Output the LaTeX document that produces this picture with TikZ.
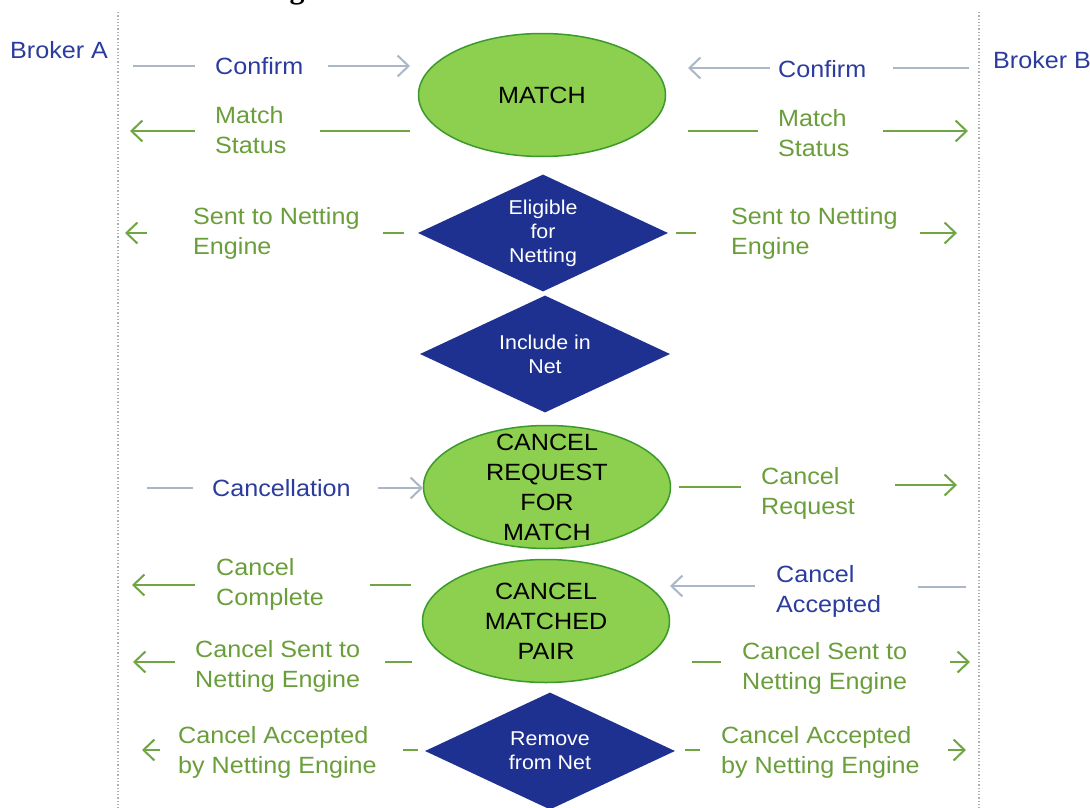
\documentclass[tikz,border=0pt]{standalone}
\usepackage{fontspec}
\setmainfont{Liberation Sans}[FakeStretch=1.07]
\newfontfamily\titlefont{Liberation Serif}
\usetikzlibrary{arrows.meta,shapes.geometric}
\definecolor{tblue}{HTML}{2B3C9E}
\definecolor{tgreen}{HTML}{6A9E3A}
\definecolor{lgrey}{HTML}{A9B7C6}
\definecolor{lgreen}{HTML}{6FA543}
\definecolor{efill}{HTML}{8DCF4E}
\definecolor{edraw}{HTML}{3B9A2B}
\definecolor{dfill}{HTML}{1E3190}
\definecolor{dotgrey}{HTML}{B0B0B0}
\begin{document}
\begin{tikzpicture}[x=1pt,y=-1pt,
  lbl/.style={font=\fontsize{23.5}{30}\selectfont, inner sep=0pt, align=left, anchor=west},
  bl/.style={lbl,text=tblue},
  gl/.style={lbl,text=tgreen},
  gline/.style={lgrey,line width=2pt},
  grline/.style={lgreen,line width=2pt},
  tip/.style={-{Straight Barb[length=11pt,width=21pt]}},
  state/.style={ellipse,draw=edraw,line width=1.5pt,fill=efill,minimum width=247,minimum height=123,inner sep=0pt},
  stext/.style={font=\fontsize{23.5}{30}\selectfont,align=center,text=black,inner sep=0pt},
  decision/.style={diamond,fill=dfill,minimum width=250,minimum height=117,inner sep=0pt},
  dtext/.style={font=\fontsize{20}{24}\selectfont,align=center,text=white,inner sep=0pt},
  lane/.style={dotgrey,line width=1.3pt,dotted}]
\fill[white] (0,0) rectangle (1090,808);
\useasboundingbox (0,0) rectangle (1090,808);

% title fragment (cut off at the top edge, as in the reference)
\node[font=\titlefont\bfseries\fontsize{30}{30}\selectfont,anchor=base,inner sep=0pt] (title) at (297,-1) {g};

% swimlane borders
\coordinate (laT) at (118,12); \coordinate (laB) at (118,808);
\coordinate (lbT) at (979,12); \coordinate (lbB) at (979,808);
\draw[lane] (laT) -- (laB);
\draw[lane] (lbT) -- (lbB);
\node[bl] (brokerA) at (10,50) {Broker A};
\node[bl] (brokerB) at (993,60) {Broker B};

% states
\node[state] (match) at (542,95) {};
\node[stext] (matchT) at (match) {MATCH};
\node[decision] (elig) at (543,233) {};
\node[dtext] (eligT) at (elig) {Eligible\\for\\Netting};
\node[decision] (incl) at (545,354) {};
\node[dtext] (inclT) at (incl) {Include in\\Net};
\node[state] (creq) at (547,487) {};
\node[stext] (creqT) at (creq) {CANCEL\\REQUEST\\FOR\\MATCH};
\node[state] (cmp) at (546,621) {};
\node[stext] (cmpT) at (cmp) {CANCEL\\MATCHED\\PAIR};
\node[decision] (rem) at (550,751) {};
\node[dtext] (remT) at (rem) {Remove\\from Net};

% Confirm (A -> match)
\draw[gline] (133,66) -- (195,66);
\node[bl] (confA) at (215,66) {Confirm};
\draw[gline,tip] (328,66) -- (410,66);
% Confirm (B -> match)
\draw[gline,tip] (770,68) -- (688,68);
\node[bl] (confB) at (778,69) {Confirm};
\draw[gline] (893,68) -- (969,68);

% Match Status
\draw[grline,tip] (195,131) -- (130,131);
\node[gl] (msA) at (215,130) {Match\\Status};
\draw[grline] (320,131) -- (410,131);
\draw[grline] (688,131) -- (758,131);
\node[gl] (msB) at (778,133) {Match\\Status};
\draw[grline,tip] (883,131) -- (968,131);

% Sent to Netting Engine
\draw[grline,tip] (147,233) -- (125,233);
\node[gl] (sneA) at (193,233) {Sent to Netting\\Engine};
\draw[grline] (383,233) -- (404,233);
\draw[grline] (676,233) -- (696,233);
\node[gl] (sneB) at (731,233) {Sent to Netting\\Engine};
\draw[grline,tip] (920,233) -- (957,233);

% Cancellation / Cancel Request
\draw[gline] (147,488) -- (193,488);
\node[bl] (canc) at (212,488) {Cancellation};
\draw[gline,tip] (378,488) -- (423,488);
\draw[grline] (679,487) -- (741,487);
\node[gl] (creqL) at (761,493) {Cancel\\Request};
\draw[grline,tip] (895,485) -- (957,485);

% Cancel Complete / Cancel Accepted
\draw[grline,tip] (195,585) -- (132,585);
\node[gl] (ccomp) at (216,584) {Cancel\\Complete};
\draw[grline] (370,585) -- (411,585);
\draw[gline,tip] (755,586) -- (670,586);
\node[bl] (cacc) at (776,591) {Cancel\\Accepted};
\draw[gline] (918,587) -- (966,587);

% Cancel Sent to Netting Engine
\draw[grline,tip] (175,662) -- (133,662);
\node[gl] (csA) at (195,666) {Cancel Sent to\\Netting Engine};
\draw[grline] (385,662) -- (412,662);
\draw[grline] (692,662) -- (721,662);
\node[gl] (csB) at (742,668) {Cancel Sent to\\Netting Engine};
\draw[grline,tip] (950,662) -- (970,662);

% Cancel Accepted by Netting Engine
\draw[grline,tip] (160,750) -- (142,750);
\node[gl] (caA) at (178,752) {Cancel Accepted\\by Netting Engine};
\draw[grline] (403,750) -- (418,750);
\draw[grline] (685,750) -- (700,750);
\node[gl] (caB) at (721,752) {Cancel Accepted\\by Netting Engine};
\draw[grline,tip] (948,750) -- (966,750);
\end{tikzpicture}
\end{document}
